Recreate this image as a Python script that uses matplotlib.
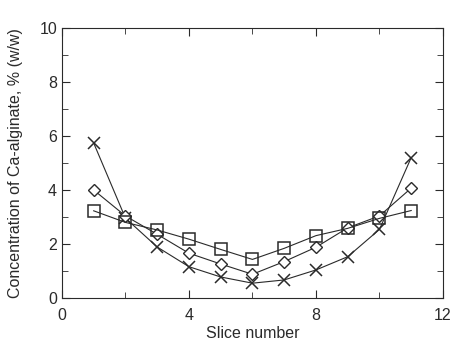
import numpy as np
from matplotlib import pyplot as plt
from matplotlib.ticker import MultipleLocator

plt.rcParams['font.family'] = ['Liberation Sans', 'DejaVu Sans']

slices = np.arange(1, 12)
crosses = [5.74, 2.96, 1.89, 1.16, 0.78, 0.55, 0.67, 1.04, 1.53, 2.54, 5.2]
diamonds = [4.0, 3.04, 2.36, 1.66, 1.26, 0.88, 1.35, 1.88, 2.6, 3.04, 4.07]
squares = [3.23, 2.8, 2.52, 2.18, 1.8, 1.43, 1.84, 2.31, 2.58, 2.95, 3.24]

ink = '#2a2a2a'


def plot_profiles():
    fig = plt.figure(figsize=(4.52, 3.41), dpi=100)
    ax = fig.add_axes([0.137, 0.126, 0.843, 0.792])
    ax.plot(slices, crosses, color=ink, lw=0.8, marker='x', ms=9,
            mew=1.1)
    ax.plot(slices, diamonds, color=ink, lw=0.8, marker='D', ms=6,
            mfc='white', mew=1.0)
    ax.plot(slices, squares, color=ink, lw=0.8, marker='s', ms=8.5,
            mfc='none', mew=1.1)
    ax.set_xlim(0, 12)
    ax.set_ylim(0, 10)
    ax.xaxis.set_major_locator(MultipleLocator(4))
    ax.xaxis.set_minor_locator(MultipleLocator(2))
    ax.yaxis.set_major_locator(MultipleLocator(2))
    ax.yaxis.set_minor_locator(MultipleLocator(1))
    ax.tick_params(which='both', direction='in', top=True, right=True,
                   colors=ink, labelsize=11.5)
    ax.tick_params(which='major', length=6)
    ax.tick_params(which='minor', length=4)
    ax.tick_params(axis='x', pad=7)
    for s in ax.spines.values():
        s.set_color(ink)
    ax.set_xlabel('Slice number', fontsize=11.5, color=ink, labelpad=2)
    ax.set_ylabel('Concentration of Ca-alginate, % (w/w)', fontsize=11.5,
                  color=ink, labelpad=12)
    fig.savefig('out.png', dpi=100)


if __name__ == "__main__":
    plot_profiles()
